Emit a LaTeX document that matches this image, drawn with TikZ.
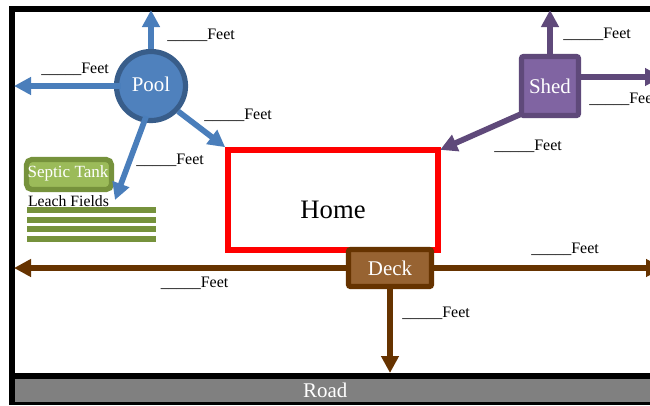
\documentclass[tikz,border=0pt]{standalone}
\usepackage{fontspec}
\setmainfont{Liberation Serif}
\usetikzlibrary{arrows.meta}
\definecolor{poolfill}{HTML}{4F81BD}
\definecolor{poolline}{HTML}{385D8A}
\definecolor{poolarrow}{HTML}{4A7EBB}
\definecolor{septicfill}{HTML}{9BBB59}
\definecolor{septicline}{HTML}{76923C}
\definecolor{shedfill}{HTML}{8064A2}
\definecolor{shedline}{HTML}{5F497A}
\definecolor{deckfill}{HTML}{976332}
\definecolor{deckline}{HTML}{663300}
\tikzset{
  x=0.75pt,y=-0.75pt,
  conn/.style={line width=4.3pt,-{Triangle[width=12.75pt,length=12.75pt]}},
  poolconn/.style={conn,draw=poolarrow},
  shedconn/.style={conn,draw=shedline},
  deckconn/.style={conn,draw=deckline},
  feet/.style={anchor=base west,inner sep=0pt,font=\fontsize{12pt}{13pt}\selectfont,text=black},
  bar/.style={fill=septicline,draw=none},
  boxlabel/.style={text=white,inner sep=0pt,align=center},
}
\begin{document}
\begin{tikzpicture}
\clip (0,0) rectangle (650,405);
\fill[white] (0,0) rectangle (650,405);
% property frame and road
\fill[black] (9,6) rectangle (660,405);
\fill[white] (15,12) rectangle (660,372.5);
\node[draw=none,fill=black!50,minimum width=650*0.75pt,minimum height=23*0.75pt,inner sep=0pt,anchor=north west,
      text=white,font=\fontsize{15.7pt}{17pt}\selectfont] (road) at (15,378.5) {\hspace*{-22.5pt}Road};
% free ends
\coordinate (pooltop) at (151,10);
\coordinate (poolleft) at (14,86);
\coordinate (leach) at (115,200);
\coordinate (shedtop) at (550,10);
\coordinate (shedright) at (662,77);
\coordinate (deckleft) at (14,268);
\coordinate (deckright) at (663,268);
\coordinate (deckdown) at (390,373);
% home
\node[draw=red,line width=4.2pt,fill=white,minimum width=210*0.75pt,minimum height=100*0.75pt,inner sep=0pt] (home) at (333,200) {};
\node[inner sep=0pt,font=\fontsize{20pt}{22pt}\selectfont] (hometext) at (333,210) {Home};
% septic and leach fields
\node[draw=septicline,fill=septicfill,line width=3.9pt,rounded corners=4pt,minimum width=85*0.75pt,minimum height=30*0.75pt,inner sep=0pt,
      boxlabel,font=\fontsize{12.8pt}{14pt}\selectfont] (septic) at (69,174.5) {};
\node[boxlabel,font=\fontsize{12.8pt}{14pt}\selectfont] (septictext) at (68,173) {Septic Tank};
\node[inner sep=0pt,font=\fontsize{11.8pt}{13pt}\selectfont] (leachtext) at (68.5,201) {Leach Fields};
\fill[bar] (27,207) rectangle (156,213);
\fill[bar] (27,216.5) rectangle (156,222.5);
\fill[bar] (27,225.5) rectangle (156,231.5);
\fill[bar] (27,236) rectangle (156,242);
% pool
\node[circle,draw=poolline,fill=poolfill,line width=3.9pt,minimum size=69*0.75pt,inner sep=0pt,outer sep=1.95pt,
      boxlabel,font=\fontsize{15.7pt}{17pt}\selectfont] (pool) at (151,86) {\raisebox{2.25pt}{Pool}};
\draw[poolconn] (pool.north) -- (pooltop);
\draw[poolconn,shorten <=-5pt] (pool.west) -- (poolleft);
\draw[poolconn] (pool.-43) -- (home.north west);
\draw[poolconn,shorten <=-5pt] (pool.-101) -- (leach);
% shed
\node[draw=shedline,fill=shedfill,line width=3.9pt,rounded corners=1.5pt,minimum width=57*0.75pt,minimum height=59*0.75pt,inner sep=0pt,
      boxlabel,font=\fontsize{15.7pt}{17pt}\selectfont] (shed) at (550,86) {\raisebox{-0.75pt}{Shed}};
\draw[shedconn] (shed.north) -- (shedtop);
\draw[shedconn] (shed.east |- shedright) -- (shedright);
\draw[shedconn] (shed.south west) ++(2,-4) -- ([xshift=-0.5pt,yshift=-2pt]home.north east);
% deck
\node[draw=deckline,fill=deckfill,line width=3.9pt,rounded corners=1.5pt,minimum width=83*0.75pt,minimum height=37*0.75pt,inner sep=0pt,
      boxlabel,font=\fontsize{15.7pt}{17pt}\selectfont] (deck) at (390,268) {\raisebox{-1.5pt}{Deck}};
\draw[deckconn] (deck.west) -- (deckleft);
\draw[deckconn] (deck.east) -- (deckright);
\draw[deckconn] (deck.south) -- (deckdown);
% labels
\node[feet] (l1) at (167,39.5) {\_\_\_\_\_Feet};
\node[feet] (l2) at (41,73) {\_\_\_\_\_Feet};
\node[feet] (l3) at (204,119) {\_\_\_\_\_Feet};
\node[feet] (l4) at (136,164) {\_\_\_\_\_Feet};
\node[feet] (l5) at (563,38) {\_\_\_\_\_Feet};
\node[feet] (l6) at (589,103) {\_\_\_\_\_Feet};
\node[feet] (l7) at (494,150) {\_\_\_\_\_Feet};
\node[feet] (l8) at (160.5,287) {\_\_\_\_\_Feet};
\node[feet] (l9) at (402,317) {\_\_\_\_\_Feet};
\node[feet] (l10) at (531,253) {\_\_\_\_\_Feet};
\end{tikzpicture}
\end{document}
